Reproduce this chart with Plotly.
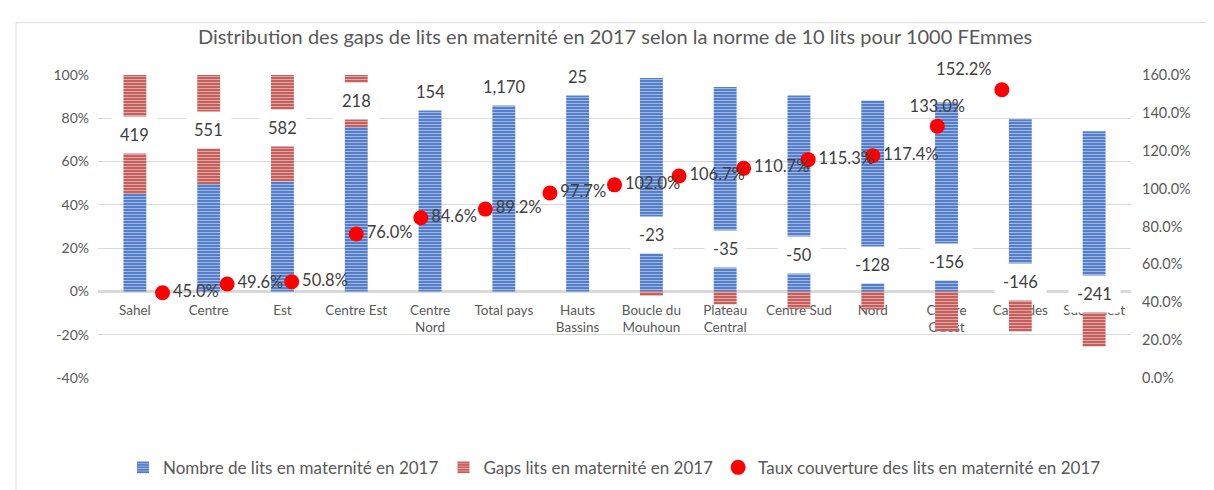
import plotly.graph_objects as go

# ---------------- data ----------------
categories = ["Sahel", "Centre", "Est", "Centre Est", "Centre Nord", "Total pays",
              "Hauts Bassins", "Boucle du Mouhoun", "Plateau Central", "Centre Sud",
              "Nord", "Centre Ouest", "Cascades", "Sud Ouest"]
tick_labels = ["Sahel", "Centre", "Est", "Centre Est", "Centre<br>Nord", "Total pays",
               "Hauts<br>Bassins", "Boucle du<br>Mouhoun", "Plateau<br>Central", "Centre Sud",
               "Nord", "Centre<br>Ouest", "Cascades", "Sud Ouest"]
# share (%) of beds (blue) and gap (red) in the 100% stacked bars
lits_pct = [45.0, 49.6, 50.8, 76.0, 84.6, 89.2, 97.7, 98.6, 94.5, 90.5, 88.2, 87.3, 79.5, 74.0]
gap_pct = [55.0, 50.4, 49.2, 24.0, 15.4, 10.8, 2.3, -2.0, -6.0, -8.0, -8.3, -18.5, -18.5, -25.4]
# gap values (number of beds) shown as labels
gap_values = [419, 551, 582, 218, 154, 1170, 25, -23, -35, -50, -128, -156, -146, -241]
# coverage rate (%) - secondary axis
taux_couverture = [45.0, 49.6, 50.8, 76.0, 84.6, 89.2, 97.7, 102.0, 106.7, 110.7, 115.3, 117.4, 133.0, 152.2]
left_ticks = [-40, -20, 0, 20, 40, 60, 80, 100]
right_ticks = [0, 20, 40, 60, 80, 100, 120, 140, 160]

# ---------------- layout helpers ----------------
W, H = 1214, 490
ML, MR, MT, MB = 90, 91, 67, 116
PW, PH = W - ML - MR, H - MT - MB


def px_x(p):
    return (p - ML) / PW


def px_y(p):
    return (H - MB - p) / PH


# label placement (Excel puts positive-gap labels at the centre of the red segment)
neg_label_pos = [26.0, 19.5, 17.0, 12.0, 13.6, 4.5, -1.0]
label_y = [l + g / 2 for l, g in zip(lits_pct[:7], gap_pct[:7])] + neg_label_pos
dot_text_pos = ["middle right"] * 12 + ["top center", "top left"]

BLUE = "#4472C4"
RED = "#C0504D"
TXT = "#595959"
LBL = "#404040"
FONT = "Lato"

fig = go.Figure()
fig.add_trace(go.Bar(
    x=categories, y=lits_pct, name="Nombre de lits en maternité en 2017",
    width=0.31,
    marker=dict(color=BLUE, line=dict(width=0),
                pattern=dict(shape="-", fgcolor="white", bgcolor=BLUE, size=3, solidity=0.45)),
    hoverinfo="skip",
))
fig.add_trace(go.Bar(
    x=categories, y=gap_pct, name="Gaps lits en maternité en 2017",
    width=0.31,
    marker=dict(color=RED, line=dict(width=0),
                pattern=dict(shape="-", fgcolor="white", bgcolor=RED, size=3, solidity=0.45)),
    hoverinfo="skip",
))
fig.add_trace(go.Scatter(
    x=list(range(1, len(taux_couverture) + 1)), y=taux_couverture,
    xaxis="x2", yaxis="y2", mode="markers+text",
    name="Taux couverture des lits en maternité en 2017",
    marker=dict(size=15, color="#FF0000"),
    text=[f"{v:.1f}%" for v in taux_couverture],
    textposition=dot_text_pos,
    textfont=dict(family=FONT, size=16.5, color=LBL),
    cliponaxis=False,
))

annotations = []
for c, yv, gv in zip(categories, label_y, gap_values):
    annotations.append(dict(
        x=c, y=yv, xref="x", yref="y", text=f"{gv:,}", showarrow=False,
        bgcolor="white", borderpad=8,
        font=dict(family=FONT, size=16.5, color=LBL),
    ))

shapes = [
    dict(type="line", xref="paper", yref="paper", x0=px_x(8), x1=px_x(1214), y0=px_y(14), y1=px_y(14),
         line=dict(color="#D9D9D9", width=1)),
    dict(type="line", xref="paper", yref="paper", x0=px_x(8), x1=px_x(8), y0=px_y(14), y1=px_y(490),
         line=dict(color="#D9D9D9", width=1)),
]

fig.update_layout(
    width=W, height=H,
    margin=dict(l=ML, r=MR, t=MT, b=MB),
    paper_bgcolor="white", plot_bgcolor="white",
    barmode="relative",
    font=dict(family=FONT, color=TXT),
    title=dict(text="Distribution des gaps de lits en maternité en 2017 selon la norme de 10 lits pour 1000 FEmmes",
               x=0.5, xref="container", y=1 - 29 / H, yref="container", yanchor="middle", xanchor="center",
               font=dict(family=FONT, size=20, color=TXT)),
    xaxis=dict(type="category", categoryarray=categories, range=[-0.5, len(categories) - 0.5],
               tickvals=categories, ticktext=tick_labels,
               anchor="free", position=40 / 140, showline=True, linecolor="#D9D9D9", linewidth=3,
               showgrid=False, zeroline=False, ticks="", layer="below traces",
               tickfont=dict(family=FONT, size=13.5, color=TXT), ticklabelstandoff=5),
    yaxis=dict(range=[-40, 100], tickvals=left_ticks, ticktext=[f"{t}%" for t in left_ticks],
               showgrid=True, gridcolor="#D9D9D9",
               zeroline=False, showline=False, ticks="",
               tickfont=dict(family=FONT, size=14, color=TXT), ticklabelstandoff=8),
    xaxis2=dict(overlaying="x", range=[0, 16], visible=False, anchor="y2"),
    yaxis2=dict(overlaying="y", side="right", range=[0, 160], tickvals=right_ticks,
                ticktext=[f"{t:.1f}%" for t in right_ticks],
                showgrid=False, zeroline=False, showline=False, ticks="",
                tickfont=dict(family=FONT, size=14.5, color=TXT), ticklabelstandoff=10),
    legend=dict(orientation="h", x=0.5, xanchor="center", y=px_y(465), yanchor="middle",
                font=dict(family=FONT, size=17, color=TXT), bgcolor="rgba(0,0,0,0)",
                itemwidth=30),
    annotations=annotations,
    shapes=shapes,
    showlegend=True,
)

fig.write_html("out.html")
